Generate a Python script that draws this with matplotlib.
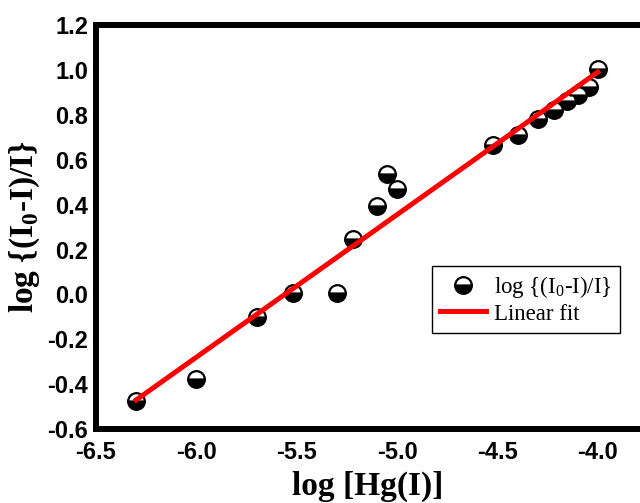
import numpy as np
import matplotlib
matplotlib.use("Agg")
import matplotlib.pyplot as plt

# log [Hg(I)] vs log {(I0-I)/I}
log_hg = [-6.30, -6.00, -5.70, -5.52, -5.30, -5.22, -5.10, -5.05, -5.00,
          -4.52, -4.40, -4.30, -4.22, -4.155, -4.10, -4.045, -4.00]
log_ratio = [-0.475, -0.375, -0.10, 0.006, 0.006, 0.245, 0.395, 0.537, 0.47,
             0.667, 0.709, 0.78, 0.82, 0.861, 0.888, 0.925, 1.003]

xticks = [-6.5, -6.0, -5.5, -5.0, -4.5, -4.0]
yticks = [-0.6, -0.4, -0.2, 0.0, 0.2, 0.4, 0.6, 0.8, 1.0, 1.2]

# linear fit
slope, icpt = np.polyfit(log_hg, log_ratio, 1)
fit_x = np.array([min(log_hg), max(log_hg)])
fit_y = slope * fit_x + icpt

fig = plt.figure(figsize=(6.4, 5.03), dpi=100)
ax = fig.add_axes([0.15, 0.147, 0.85, 0.803])

ax.plot(log_hg, log_ratio, 'o', ms=12, fillstyle='bottom', mfc='black',
        mfcalt='white', mec='black', mew=1.6, label=r'log {(I$_\mathregular{0}$-I)/I}', zorder=2)
ax.plot(fit_x, fit_y, '-', color='#ff0000', lw=3.6, label='Linear fit', zorder=3)

ax.set_xlim(-6.5, -3.79)
ax.set_ylim(-0.6, 1.2)
ax.set_xticks(xticks)
ax.set_yticks(yticks)
ax.set_xticklabels(['%.1f' % v for v in xticks], fontfamily='Liberation Sans',
                   fontweight='bold', fontsize=17)
ax.set_yticklabels(['%.1f' % v for v in yticks], fontfamily='Liberation Sans',
                   fontweight='bold', fontsize=17)
ax.tick_params(direction='out', length=2.5, width=4, pad=3)
ax.tick_params(axis='x', pad=6)

for s in ['left', 'bottom', 'top']:
    ax.spines[s].set_linewidth(4.3)
ax.spines['right'].set_visible(False)

ax.set_xlabel('log [Hg(I)]', fontfamily='Liberation Serif', fontweight='bold',
              fontsize=24, labelpad=5)
ax.set_ylabel(r'log {(I$_\mathregular{0}$-I)/I}', fontfamily='Liberation Serif',
              fontweight='bold', fontsize=24, labelpad=4)

leg = ax.legend(loc='upper left', bbox_to_anchor=(432 / 640, 1 - 266 / 503),
                bbox_transform=fig.transFigure, prop={'family': 'Liberation Serif', 'size': 16.5},
                frameon=True, fancybox=False, framealpha=1, edgecolor='black',
                handlelength=2.0, handletextpad=0.35, borderpad=0.35,
                labelspacing=0.15, borderaxespad=0)
leg.get_frame().set_linewidth(1.0)

fig.savefig('out.png', dpi=100)
